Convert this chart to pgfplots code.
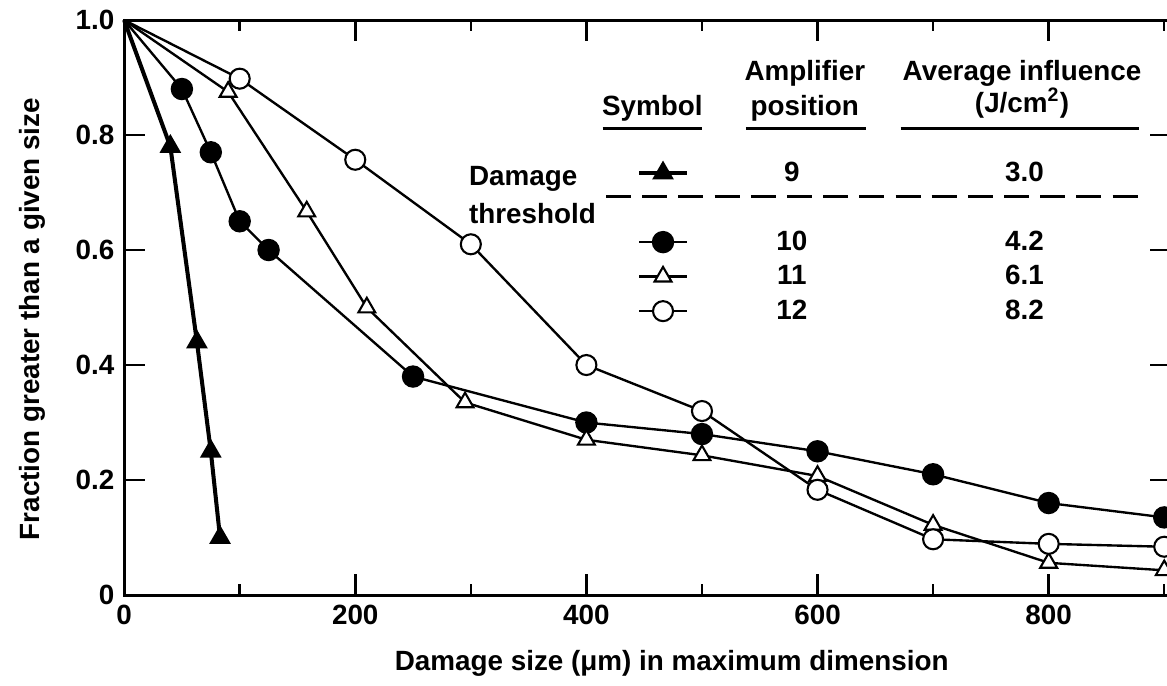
\documentclass[border=0pt]{standalone}
\usepackage{fontspec}
\setmainfont{Liberation Sans}
\usepackage{pgfplots}
\pgfplotsset{compat=1.18}

% amplifier 9 (damage threshold)
\pgfplotstableread{
x y
0 1.00
40 0.78
63 0.44
75 0.25
83 0.10
}\ampnine
% amplifier 10
\pgfplotstableread{
x y
0 1.00
50 0.88
75 0.77
100 0.65
125 0.60
250 0.38
400 0.30
500 0.28
600 0.25
700 0.21
800 0.16
900 0.135
}\ampten
% amplifier 11
\pgfplotstableread{
x y
0 1.00
90 0.875
158 0.667
210 0.50
295 0.335
400 0.27
500 0.243
600 0.207
700 0.122
800 0.056
900 0.043
}\ampeleven
% amplifier 12
\pgfplotstableread{
x y
0 1.00
100 0.898
200 0.757
300 0.61
400 0.40
500 0.32
600 0.183
700 0.097
800 0.089
900 0.084
}\amptwelve

\begin{document}
\begin{tikzpicture}[font=\bfseries]
\begin{axis}[
  scale only axis,
  width=376.2pt, height=206.6pt,
  xmin=0, xmax=906, ymin=0, ymax=1,
  axis line style={line width=1.1pt},
  xtick={0,200,400,600,800},
  xticklabels={0,200,400,600,800},
  minor xtick={100,300,500,700,900},
  ytick={0,0.2,0.4,0.6,0.8,1.0},
  yticklabels={0,0.2,0.4,0.6,0.8,1.0},
  tick align=inside,
  major tick length=7.5pt,
  minor tick length=3.8pt,
  tick style={line width=0.9pt, black},
  ticklabel style={font=\bfseries},
  /pgf/number format/assume math mode=true,
  xlabel={Damage size (μm) in maximum dimension},
  ylabel={Fraction greater than a given size},
  xlabel style={at={(axis description cs:0.523,-0.118)}, anchor=center, font=\bfseries},
  ylabel style={at={(axis description cs:-0.088,0.48)}, anchor=center, font=\bfseries},
  clip=false,
  legend style={draw=none, fill=none, at={(axis cs:444,0.758)}, anchor=north west,
    inner sep=0pt, outer sep=0pt, row sep=2.4pt,
    nodes={inner sep=0pt, text height=8pt, text depth=2pt, font=\bfseries}},
  legend cell align=left,
]
% no mark at the common start point (0,1): marks begin at the 2nd point
\addplot[black, line width=1.45pt, mark=triangle*, mark size=3.9pt,
  mark phase=2, mark options={fill=black, line width=0.6pt}]
  table[x=x, y=y] {\ampnine};
\addlegendentry{\makebox[74pt][c]{9}\makebox[93.2pt][c]{3.0}}
\addlegendimage{empty legend}
\addlegendentry{}
\addplot[black, line width=0.85pt, mark=*, mark size=3.6pt,
  mark phase=2, mark options={fill=black}]
  table[x=x, y=y] {\ampten};
\addlegendentry{\makebox[74pt][c]{10}\makebox[93.2pt][c]{4.2}}
\addplot[black, line width=0.85pt, mark=triangle*, mark size=3.5pt,
  mark phase=2, mark options={fill=white, line width=0.75pt}]
  table[x=x, y=y] {\ampeleven};
\addlegendentry{\makebox[74pt][c]{11}\makebox[93.2pt][c]{6.1}}
\addplot[black, line width=0.85pt, mark=*, mark size=3.6pt,
  mark phase=2, mark options={fill=white, line width=0.75pt}]
  table[x=x, y=y] {\amptwelve};
\addlegendentry{\makebox[74pt][c]{12}\makebox[93.2pt][c]{8.2}}

% table headings of the key
\node[anchor=base] at (axis cs:457,0.834) {Symbol};
\node[anchor=base] at (axis cs:589,0.895) {Amplifier};
\node[anchor=base] at (axis cs:589,0.834) {position};
\node[anchor=base] at (axis cs:777,0.895) {Average influence};
\node[anchor=base] at (axis cs:777,0.840) {(J/cm\textsuperscript{2})};
\draw[line width=1pt] (axis cs:414,0.812) -- (axis cs:500,0.812);
\draw[line width=1pt] (axis cs:538,0.812) -- (axis cs:642,0.812);
\draw[line width=1pt] (axis cs:672,0.812) -- (axis cs:878,0.812);
\node[anchor=base west, inner sep=0pt] at (axis cs:298,0.7125) {Damage};
\node[anchor=base west, inner sep=0pt] at (axis cs:298,0.646) {threshold};
\draw[line width=1.1pt, dash pattern=on 9pt off 4pt] (axis cs:417,0.693) -- (axis cs:881,0.693);
\end{axis}
\coordinate (bl) at ([xshift=-44.6pt, yshift=-32.4pt]current axis.south west);
\coordinate (tr) at ([xshift=-1.5pt, yshift=7.2pt]current axis.north east);
\pgfresetboundingbox
\useasboundingbox (bl) rectangle (tr);
\end{tikzpicture}
\end{document}
